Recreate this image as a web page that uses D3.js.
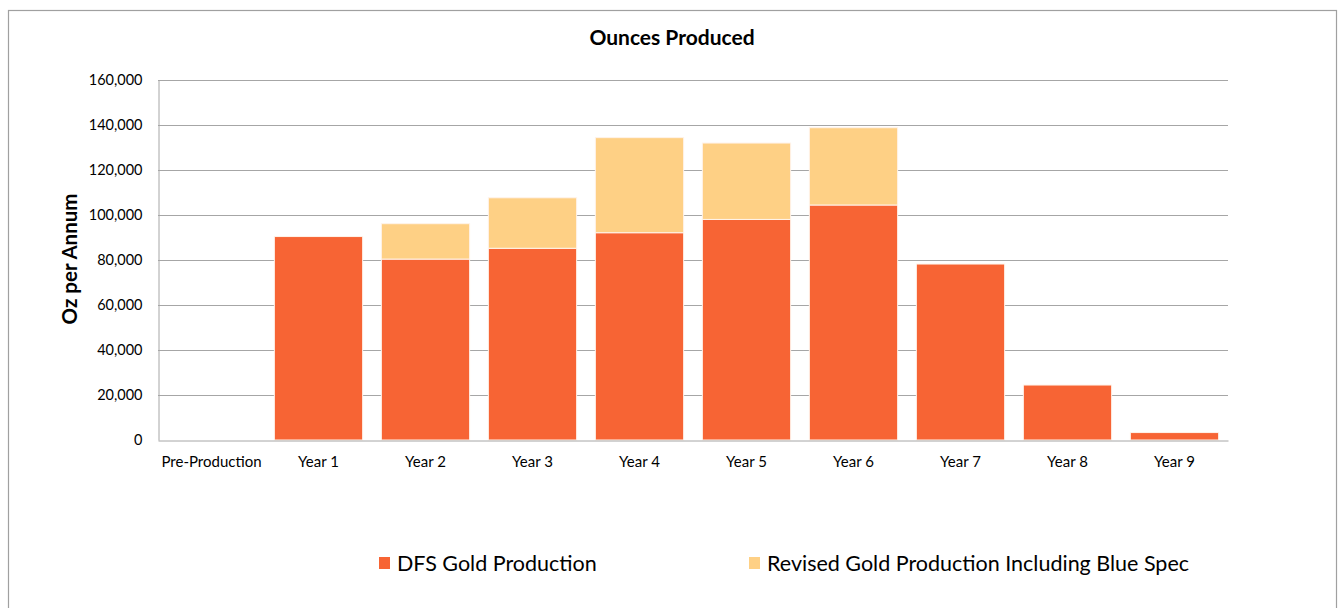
<!DOCTYPE html>
<html>
<head>
<meta charset="utf-8">
<script src="https://cdn.jsdelivr.net/npm/d3@7/dist/d3.min.js"></script>
<style>
  html, body { margin: 0; padding: 0; background: #ffffff; }
  svg { display: block; font-family: Lato, "Open Sans", sans-serif; }
</style>
</head>
<body>
<svg id="chart" width="1338" height="608"></svg>
<script>
const categories = ["Pre-Production", "Year 1", "Year 2", "Year 3", "Year 4", "Year 5", "Year 6", "Year 7", "Year 8", "Year 9"];
const dfsProduction = [0, 90300, 80300, 85100, 92000, 97900, 104300, 78100, 24400, 3300];
const revisedAdditional = [0, 0, 15700, 22400, 42200, 33900, 34300, 0, 0, 0];
const yTicks = [0, 20000, 40000, 60000, 80000, 100000, 120000, 140000, 160000];
const seriesNames = ["DFS Gold Production", "Revised Gold Production Including Blue Spec"];
const seriesColors = ["#F76434", "#FED085"];

const svg = d3.select("#chart");

// outer frame
svg.append("rect")
  .attr("x", 8.5).attr("y", 10.5)
  .attr("width", 1328).attr("height", 640)
  .attr("fill", "#fff").attr("stroke", "#A0A0A0").attr("stroke-width", 1.2);

const plot = { left: 158, right: 1228, top: 79.5, bottom: 440 };

const x = d3.scaleBand().domain(categories).range([plot.left, plot.right]).paddingInner(0.175).paddingOuter(0.0875);
const y = d3.scaleLinear().domain([0, 160000]).range([plot.bottom, plot.top]);

// gridlines
svg.append("g").selectAll("line").data(yTicks.filter(d => d > 0)).join("line")
  .attr("x1", plot.left).attr("x2", plot.right)
  .attr("y1", d => Math.round(y(d)) + 0.5).attr("y2", d => Math.round(y(d)) + 0.5)
  .attr("stroke", "#A6A6A6").attr("stroke-width", 1);

// y axis
const yAxis = d3.axisLeft(y).tickValues(yTicks).tickFormat(d3.format(",")).tickSize(0).tickPadding(16);
const gy = svg.append("g").attr("transform", `translate(${plot.left + 0.5},0)`).call(yAxis);
gy.select(".domain").attr("stroke", "#A6A6A6");
gy.selectAll("text").attr("font-size", 14.5).attr("fill", "#000").attr("font-family", "Lato, sans-serif");

// stacked data
const rows = categories.map((c, i) => ({ cat: c, dfs: dfsProduction[i], add: revisedAdditional[i] }));
const stack = d3.stack().keys(["dfs", "add"])(rows);

svg.append("g").selectAll("g").data(stack).join("g")
  .attr("fill", (d, i) => seriesColors[i])
  .selectAll("rect").data(d => d.filter(s => s[1] - s[0] > 0)).join("rect")
  .attr("x", d => x(d.data.cat))
  .attr("width", x.bandwidth())
  .attr("y", d => y(d[1]))
  .attr("height", d => y(d[0]) - y(d[1]))
  .attr("stroke", "#FFF3EA").attr("stroke-width", 1);

// x axis
const xAxis = d3.axisBottom(x).tickSize(0).tickPadding(16);
const gx = svg.append("g").attr("transform", `translate(0,${plot.bottom + 0.5})`).call(xAxis);
gx.select(".domain").attr("stroke", "#A6A6A6");
gx.selectAll("text").attr("font-size", 15).attr("fill", "#000").attr("font-family", "Lato, sans-serif");

// title
svg.append("text").attr("x", 672).attr("y", 45).attr("text-anchor", "middle")
  .attr("font-size", 21).attr("font-weight", "bold").attr("fill", "#000")
  .text("Ounces Produced");

// y title
svg.append("text").attr("transform", "translate(77,259) rotate(-90)").attr("text-anchor", "middle")
  .attr("font-size", 20.5).attr("font-weight", "bold").attr("fill", "#000")
  .text("Oz per Annum");

// legend
const legendX = [379, 749];
const lg = svg.append("g").selectAll("g").data(seriesNames).join("g")
  .attr("transform", (d, i) => `translate(${legendX[i]},557)`);
lg.append("rect").attr("width", 11).attr("height", 12).attr("fill", (d, i) => seriesColors[i]);
lg.append("text").attr("x", 18).attr("y", 13.5).attr("font-size", 21.5).attr("fill", "#000").text(d => d);
</script>
</body>
</html>
